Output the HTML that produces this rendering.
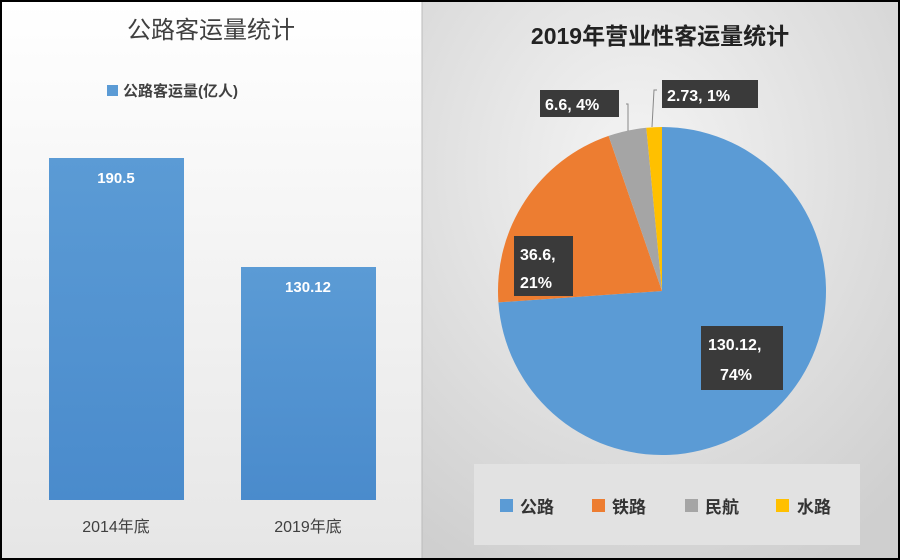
<!DOCTYPE html>
<html><head><meta charset="utf-8"><style>
body{margin:0;width:900px;height:560px;overflow:hidden;background:#fff}
svg{display:block}
text{font-family:"Liberation Sans","Noto Sans CJK SC",sans-serif}
</style></head><body>
<svg width="900" height="560" viewBox="0 0 900 560">
<defs>
<linearGradient id="lg" x1="0" y1="0" x2="0" y2="1"><stop offset="0" stop-color="#ffffff"/><stop offset="1" stop-color="#e6e6e6"/></linearGradient>
<radialGradient id="rg" cx="0.45" cy="0.3" r="0.8"><stop offset="0" stop-color="#f4f4f4"/><stop offset="1" stop-color="#cfcfcf"/></radialGradient>
<linearGradient id="bar" x1="0" y1="0" x2="0" y2="1"><stop offset="0" stop-color="#5b9bd5"/><stop offset="1" stop-color="#4a8bcc"/></linearGradient>
</defs>
<rect x="0" y="0" width="900" height="560" fill="#000"/>
<rect x="2" y="2" width="420" height="556" fill="url(#lg)"/>
<rect x="422" y="2" width="476" height="556" fill="url(#rg)"/>
<line x1="422" y1="2" x2="422" y2="558" stroke="#bbb"/>
<text x="211" y="38" font-size="24" text-anchor="middle" fill="#404040">公路客运量统计</text>
<rect x="107" y="85" width="11" height="11" fill="#5b9bd5"/>
<text x="123" y="96" font-size="15" font-weight="bold" fill="#404040">公路客运量(亿人)</text>
<rect x="49" y="158" width="135" height="342" fill="url(#bar)"/>
<rect x="241" y="267" width="135" height="233" fill="url(#bar)"/>
<text x="116" y="183" font-size="15" font-weight="bold" fill="#fff" text-anchor="middle">190.5</text>
<text x="308" y="292" font-size="15" font-weight="bold" fill="#fff" text-anchor="middle">130.12</text>
<text x="116" y="532" font-size="16" fill="#404040" text-anchor="middle">2014年底</text>
<text x="308" y="532" font-size="16" fill="#404040" text-anchor="middle">2019年底</text>

<text x="660" y="44" font-size="23" font-weight="bold" text-anchor="middle" fill="#222">2019年营业性客运量统计</text>
<g>
<path d="M662,291 L662,127 A164,164 0 1 1 498.4,302.4 Z" fill="#5b9bd5"/>
<path d="M662,291 L498.4,302.4 A164,164 0 0 1 608.6,135.9 Z" fill="#ed7d31"/>
<path d="M662,291 L608.6,135.9 A164,164 0 0 1 646.3,127.8 Z" fill="#a5a5a5"/>
<path d="M662,291 L646.3,127.8 A164,164 0 0 1 662,127 Z" fill="#ffc000"/>
</g>
<polyline points="626,104 628,104 628,131" fill="none" stroke="#888"/>
<polyline points="657,90 654,90 652,127" fill="none" stroke="#888"/>
<g fill="#3a3a3a">
<rect x="701" y="326" width="82" height="64"/>
<rect x="514" y="236" width="59" height="60"/>
<rect x="540" y="90" width="79" height="27"/>
<rect x="662" y="80" width="96" height="28"/>
</g>
<g font-size="16" font-weight="bold" fill="#fff">
<text x="708" y="350">130.12,</text>
<text x="720" y="380">74%</text>
<text x="520" y="260">36.6,</text>
<text x="520" y="288">21%</text>
<text x="545" y="110">6.6, 4%</text>
<text x="667" y="101">2.73, 1%</text>
</g>
<rect x="474" y="464" width="386" height="81" fill="#e2e2e2"/>
<g font-size="17" font-weight="bold" fill="#333">
<rect x="500" y="499" width="13" height="13" fill="#5b9bd5"/><text x="520" y="513">公路</text>
<rect x="592" y="499" width="13" height="13" fill="#ed7d31"/><text x="612" y="513">铁路</text>
<rect x="685" y="499" width="13" height="13" fill="#a5a5a5"/><text x="705" y="513">民航</text>
<rect x="776" y="499" width="13" height="13" fill="#ffc000"/><text x="797" y="513">水路</text>
</g>
</svg>
</body></html>
